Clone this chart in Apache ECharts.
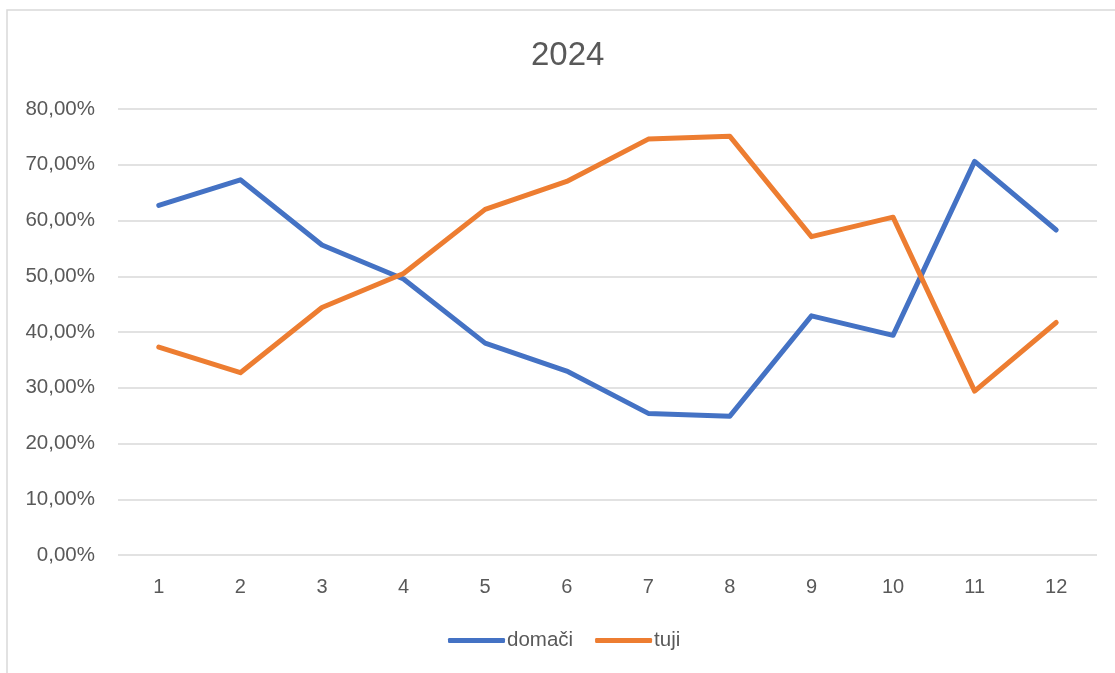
<!DOCTYPE html>
<html>
<head>
<meta charset="utf-8">
<script src="https://cdn.jsdelivr.net/npm/echarts@6/dist/echarts.min.js"></script>
<style>
html, body { margin: 0; padding: 0; background: #fff; }
#chart { width: 1115px; height: 673px; }
</style>
</head>
<body>
<div id="chart"></div>
<script>
// months 1..12, shares in %
const months = ['1', '2', '3', '4', '5', '6', '7', '8', '9', '10', '11', '12']
const domaci = [62.7, 67.3, 55.6, 49.5, 38.0, 33.0, 25.4, 24.9, 42.9, 39.4, 70.6, 58.3]
const tuji = [37.3, 32.7, 44.4, 50.5, 62.0, 67.0, 74.6, 75.1, 57.1, 60.6, 29.4, 41.7]

const font = 'Liberation Sans, Arial, sans-serif'
const textColor = '#595959'

let chart = echarts.init(document.getElementById('chart'))
let option = {
  backgroundColor: '#fff',
  animation: false,
  graphic: [
    {
      type: 'rect',
      shape: { x: 7, y: 10, width: 1130, height: 690 },
      style: { fill: 'none', stroke: '#d9d9d9', lineWidth: 1.5 },
      silent: true
    }
  ],
  title: {
    text: '2024',
    left: 526,
    top: 34,
    textStyle: { fontFamily: font, fontSize: 33, fontWeight: 'normal', color: textColor }
  },
  legend: {
    bottom: 17,
    left: 443,
    icon: 'roundRect',
    itemWidth: 57,
    itemHeight: 5,
    itemGap: 22,
    textStyle: { fontFamily: font, fontSize: 20.5, color: textColor, padding: [0, 0, 0, -3] },
    data: ['domači', 'tuji']
  },
  grid: {
    left: 118,
    right: 18,
    top: 109,
    bottom: 118
  },
  xAxis: {
    type: 'category',
    boundaryGap: true,
    data: months,
    axisLine: { show: false },
    axisTick: { show: false },
    axisLabel: { margin: 22, fontFamily: font, fontSize: 20, color: textColor }
  },
  yAxis: {
    type: 'value',
    min: 0,
    max: 80,
    interval: 10,
    axisLine: { show: false },
    axisTick: { show: false },
    splitLine: { lineStyle: { color: '#d9d9d9', width: 1.5 } },
    axisLabel: {
      margin: 23,
      fontFamily: font,
      fontSize: 20.5,
      color: textColor,
      formatter: v => v.toFixed(2).replace('.', ',') + '%'
    }
  },
  series: [
    {
      name: 'domači',
      type: 'line',
      data: domaci,
      symbol: 'none',
      color: '#4472c4',
      lineStyle: { width: 5, cap: 'round', join: 'round' }
    },
    {
      name: 'tuji',
      type: 'line',
      data: tuji,
      symbol: 'none',
      color: '#ed7d31',
      lineStyle: { width: 5, cap: 'round', join: 'round' }
    }
  ]
}
chart.setOption(option)
</script>
</body>
</html>
